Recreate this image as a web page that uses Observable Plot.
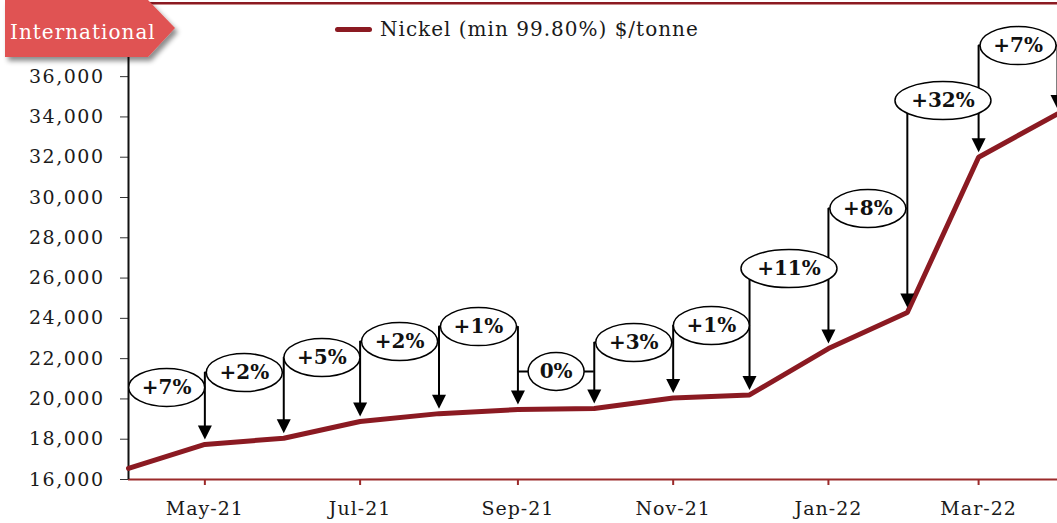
<!DOCTYPE html>
<html>
<head>
<meta charset="utf-8">
<script src="https://cdn.jsdelivr.net/npm/d3@7"></script>
<script src="https://cdn.jsdelivr.net/npm/@observablehq/plot@0.6"></script>
<style>
  html, body { margin: 0; padding: 0; background: #fff; }
  #wrap { position: relative; width: 1057px; height: 523px; overflow: hidden; font-family: "DejaVu Serif", serif; }
  #chart { position: absolute; left: 0; top: 0; }
  #tag { position: absolute; left: 0; top: 0; }
  #topline { position: absolute; left: 148px; top: 2px; width: 909px; height: 2px; background: #8b1a22; border-bottom: 1px solid #c98a8a; }
  #legend { position: absolute; left: 335px; top: 17px; display: flex; align-items: center; font-size: 20px; letter-spacing: 1px; color: #1a1a1a; white-space: nowrap; }
  #legend .sw { width: 37px; height: 5px; border-radius: 3px; background: #8b1a22; margin-right: 8px; }
  #chart svg g[aria-label="y-axis tick label"] text { letter-spacing: 1.5px; }
  #chart svg g[aria-label="x-axis tick label"] text { letter-spacing: 1px; }
</style>
</head>
<body>
<div id="wrap">
  <div id="chart"></div>
  <div id="topline"></div>
  <svg id="tag" width="200" height="75">
    <defs>
      <filter id="sh" x="-10%" y="-10%" width="130%" height="140%">
        <feDropShadow dx="3" dy="4" stdDeviation="2.5" flood-color="#000" flood-opacity="0.45"/>
      </filter>
    </defs>
    <polygon points="5,0 148,0 175,28 148,57 5,57" fill="#e05252" filter="url(#sh)"/>
    <text x="10" y="39" fill="#fff" font-family="DejaVu Serif" font-size="20" letter-spacing="1">International</text>
  </svg>
  <div id="legend"><div class="sw"></div><span>Nickel (min 99.80%) $/tonne</span></div>
</div>
<script>
// ---- data ----
const months = ["2021-04-01","2021-05-01","2021-06-01","2021-07-01","2021-08-01","2021-09-01","2021-10-01","2021-11-01","2021-12-01","2022-01-01","2022-02-01","2022-03-01","2022-04-01"];
const prices = [16550, 17740, 18050, 18880, 19270, 19470, 19520, 20050, 20200, 22500, 24290, 32000, 34150];
const changeLabels = ["+7%","+2%","+5%","+2%","+1%","0%","+3%","+1%","+11%","+8%","+32%","+7%"];
const labelLevels = [20570, 21310, 22055, 22850, 23590, 21360, 22800, 23640, 26470, 29450, 34810, 37540];
const yTicks = [16000,18000,20000,22000,24000,26000,28000,30000,32000,34000,36000];
const xTickMonths = ["2021-05-01","2021-07-01","2021-09-01","2021-11-01","2022-01-01","2022-03-01"];

// ---- derived tables ----
const dates = months.map(d => new Date(d + "T00:00:00Z"));
const series = dates.map((d, i) => ({date: d, price: prices[i]}));
const bubbles = changeLabels.map((t, i) => ({
  date: new Date((dates[i].getTime() + dates[i + 1].getTime()) / 2),
  x1: dates[i], x2: dates[i + 1],
  level: labelLevels[i], label: t,
  rx: 10 * t.length + 8
}));
const arrows = dates.slice(1).map((d, k) => {
  const j = k + 1;
  const top = Math.max(labelLevels[j - 1], j < labelLevels.length ? labelLevels[j] : -Infinity);
  return {date: d, top, price: prices[j]};
});

const RY = 19;
const ellipseSymbol = {
  draw(ctx, size) {
    const rx = Math.sqrt(size / Math.PI), ry = RY, k = 0.5523;
    ctx.moveTo(rx, 0);
    ctx.bezierCurveTo(rx, k * ry, k * rx, ry, 0, ry);
    ctx.bezierCurveTo(-k * rx, ry, -rx, k * ry, -rx, 0);
    ctx.bezierCurveTo(-rx, -k * ry, -k * rx, -ry, 0, -ry);
    ctx.bezierCurveTo(k * rx, -ry, rx, -k * ry, rx, 0);
    ctx.closePath();
  }
};
const headSymbol = {
  draw(ctx) {
    ctx.moveTo(0, 0);
    ctx.lineTo(-7, -14);
    ctx.lineTo(7, -14);
    ctx.closePath();
  }
};

const red = "#8b1a22";
const chart = Plot.plot({
  width: 1057,
  height: 523,
  marginLeft: 128,
  marginRight: 0,
  marginTop: 56,
  marginBottom: 44,
  style: {fontFamily: "DejaVu Serif", fontSize: "18px", color: "#1a1a1a", background: "transparent", overflow: "visible"},
  x: {type: "utc", domain: [dates[0], dates[dates.length - 1]]},
  y: {domain: [16000, 37000]},
  r: {type: "linear", domain: [0, 100], range: [0, 100]},
  marks: [
    Plot.axisY({ticks: yTicks, tickFormat: d3.format(","), tickSize: 8, tickPadding: 16, fontSize: 19, label: null, stroke: "#333"}),
    Plot.axisX({ticks: xTickMonths.map(d => new Date(d + "T00:00:00Z")), tickFormat: d3.utcFormat("%b-%y"), tickSize: 6, tickPadding: 16, fontSize: 19, label: null, stroke: "#9b2a2a", strokeWidth: 2}),
    Plot.ruleY([16000], {stroke: "#9b2a2a", strokeWidth: 2}),
    Plot.ruleX([dates[0]], {y1: 16000, y2: 37000, stroke: "#111", strokeWidth: 2}),
    Plot.line(series, {x: "date", y: "price", stroke: red, strokeWidth: 5, strokeLinejoin: "miter"}),
    Plot.ruleX(arrows, {x: "date", y1: "top", y2: "price", stroke: "#000", strokeWidth: 2, insetBottom: 12}),
    Plot.dot(arrows, {x: "date", y: "price", symbol: headSymbol, fill: "#000", stroke: null, dy: -5, r: 5}),
    Plot.ruleY(bubbles, {y: "level", x1: "x1", x2: "x2", stroke: "#000", strokeWidth: 2}),
    Plot.dot(bubbles, {x: "date", y: "level", r: "rx", symbol: ellipseSymbol, fill: "#fff", stroke: "#000", strokeWidth: 1.5}),
    Plot.text(bubbles, {x: "date", y: "level", text: "label", fontWeight: "bold", fontSize: 20, fill: "#111"})
  ]
});
document.getElementById("chart").appendChild(chart);
</script>
</body>
</html>
